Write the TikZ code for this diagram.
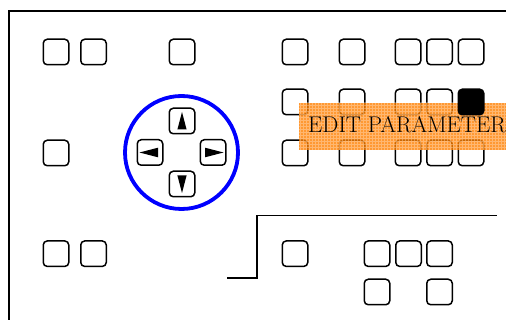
\documentclass[tikz,border=0pt]{standalone}
\usepackage{fontspec}
\begin{document}
\begin{tikzpicture}[x=1pt,y=-1pt,
  btn/.style={draw=black,line width=1.5pt,rounded corners=4pt,minimum size=25.5pt,inner sep=0pt,fill=white},
  blackbtn/.style={btn,fill=black},
  frameline/.style={line width=1.5pt},
  ring/.style={draw=blue,line width=3.8pt},
  hilite/.style={fill=orange,opacity=0.8},
  lbl/.style={font=\fontsize{22.7}{24}\selectfont,inner sep=0pt,anchor=base west}]
\useasboundingbox (0,0) rectangle (506,320);
\fill[white] (0,0) rectangle (506,320);
% frame
\coordinate (fb) at (9,320);
\coordinate (fc) at (9,11);
\coordinate (fr) at (506,11);
\draw[frameline] (fb) -- (fc) -- (fr);
% row 1
\node[btn] (a1) at (56,52) {};
\node[btn] (a2) at (93.5,52) {};
\node[btn] (a3) at (182,52) {};
\node[btn] (a4) at (295,52) {};
\node[btn] (a5) at (352,52) {};
\node[btn] (a6) at (408,52) {};
\node[btn] (a7) at (439.5,52) {};
\node[btn] (a8) at (471,52) {};
% row 2
\node[btn] (b4) at (295,102) {};
\node[btn] (b5) at (352,102) {};
\node[btn] (b6) at (408,102) {};
\node[btn] (b7) at (439.5,102) {};
% row 3
\node[btn] (c1) at (56,153) {};
\node[btn] (c4) at (295,153) {};
\node[btn] (c5) at (352,153) {};
\node[btn] (c6) at (408,153) {};
\node[btn] (c7) at (439.5,153) {};
\node[btn] (c8) at (471,153) {};
% row 4
\node[btn] (d1) at (56,253.7) {};
\node[btn] (d2) at (93.5,253.7) {};
\node[btn] (d4) at (295,253.7) {};
\node[btn] (d5) at (377,253.7) {};
\node[btn] (d6) at (408.5,253.7) {};
\node[btn] (d7) at (439.5,253.7) {};
% row 5
\node[btn] (e5) at (377,292) {};
\node[btn] (e7) at (439.5,292) {};
% step line
\coordinate (s1) at (227,278);
\coordinate (s2) at (257,278);
\coordinate (s3) at (257,215.5);
\coordinate (s4) at (497,215.5);
\draw[frameline] (s1) -- (s2) -- (s3) -- (s4);
% direction pad
\node[ring,circle,minimum size=113pt,inner sep=0pt] (ring) at (181.5,152.5) {};
\node[btn] (up) at (182,121) {};
\node[btn] (lf) at (150,152.5) {};
\node[btn] (rt) at (213,152.5) {};
\node[btn] (dn) at (182,184) {};
\fill[shift={(up)}] (0,-9) -- (4.6,8.5) -- (-4.6,8.5) -- cycle;
\fill[shift={(dn)}] (0,9) -- (4.6,-8.5) -- (-4.6,-8.5) -- cycle;
\fill[shift={(lf)}] (-10.5,0) -- (8,-4.8) -- (8,4.8) -- cycle;
\fill[shift={(rt)}] (10.5,0) -- (-8,-4.8) -- (-8,4.8) -- cycle;
% highlight
\coordinate (h1) at (299,102.7);
\coordinate (h2) at (506,150);
\fill[hilite] (h1) rectangle (h2);
\begin{scope}
\clip (h1) rectangle (h2);
\draw[white,opacity=0.3,line width=0.4pt,step=3pt] (296,100) grid (510,152);
\end{scope}
\node[blackbtn] (b8) at (471,102) {};
\node[lbl] (t) at (308,133) {EDIT PARAMETER};
\end{tikzpicture}
\end{document}
